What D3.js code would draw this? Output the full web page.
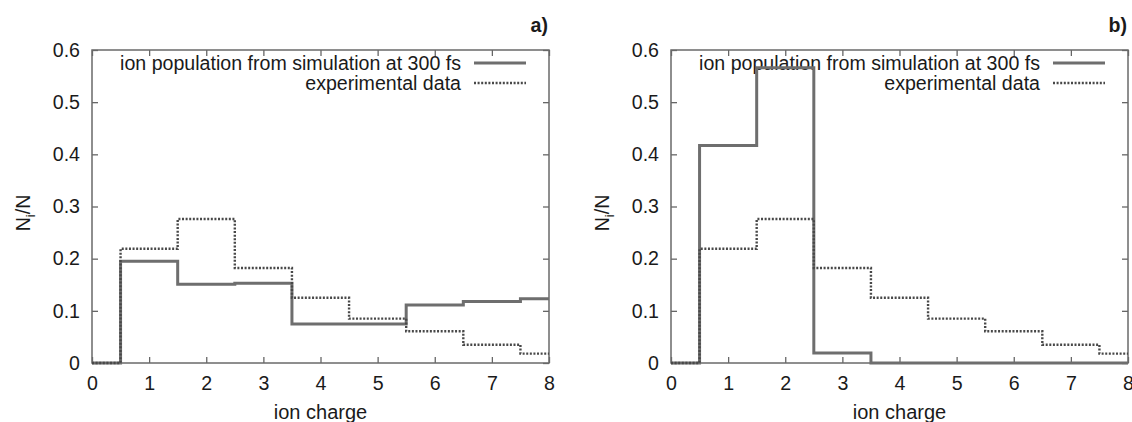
<!DOCTYPE html>
<html>
  <head>
    <meta charset="utf-8">
    <title>ion charge</title>
    <style>
      body { margin: 0; background: #fff; }
      text { font-family: "Liberation Sans", Arial, sans-serif; fill: #1a1a1a; }
    </style>
  </head>
  <body>
    <script src="https://cdn.jsdelivr.net/npm/d3@7"></script>
    <script>

// data
var charges = [0, 1, 2, 3, 4, 5, 6, 7, 8];
var simA = [0, 0.195, 0.151, 0.153, 0.075, 0.075, 0.111, 0.118, 0.123];
var simB = [0, 0.417, 0.566, 0.019, 0, 0, 0, 0, 0];
var expData = [0, 0.219, 0.276, 0.182, 0.125, 0.085, 0.061, 0.035, 0.018];
var xTicks = [0, 1, 2, 3, 4, 5, 6, 7, 8];
var yTicks = [0, 0.1, 0.2, 0.3, 0.4, 0.5, 0.6];
var legendLabels = ["ion population from simulation at 300 fs", "experimental data"];

var width = 457, height = 313;
var fs = 19.6;

var svg = d3.select("body")
  .append("svg")
    .attr("width", 1132)
    .attr("height", 422);

var x = d3.scaleLinear().domain([0, 8]).range([0, width]);
var y = d3.scaleLinear().domain([0, 0.6]).range([height, 0]);

var line = d3.line()
  .x(function (d) { return x(d[0]); })
  .y(function (d) { return y(d[1]); })
  .curve(d3.curveStep);

function panel(left, sim, tag) {
  var g = svg.append("g")
    .attr("transform", "translate(" + left + ",50)");

  var yFmt = function (d) { return d === 0 ? "0" : d.toFixed(1); };

  var ax = [
    g.append("g").attr("transform", "translate(0," + height + ")")
      .call(d3.axisBottom(x).tickValues(xTicks).tickSize(-6).tickPadding(13)),
    g.append("g")
      .call(d3.axisTop(x).tickValues(xTicks).tickSize(-6).tickFormat("")),
    g.append("g")
      .call(d3.axisLeft(y).tickValues(yTicks).tickSize(-6).tickPadding(12).tickFormat(yFmt)),
    g.append("g").attr("transform", "translate(" + width + ",0)")
      .call(d3.axisRight(y).tickValues(yTicks).tickSize(-6).tickFormat(""))
  ];
  ax.forEach(function (a) {
    a.select(".domain").remove();
    a.selectAll("line").attr("stroke", "#666").attr("stroke-width", 1.3);
    a.selectAll("text")
      .attr("font-size", fs)
      .attr("fill", "#1a1a1a")
      .style("font-family", "'Liberation Sans', Arial, sans-serif");
  });

  g.append("rect")
    .attr("width", width)
    .attr("height", height)
    .attr("fill", "none")
    .attr("stroke", "#6a6a6a")
    .attr("stroke-width", 1.5);

  // axis titles
  g.append("text")
    .attr("x", width / 2)
    .attr("y", 369)
    .attr("text-anchor", "middle")
    .attr("font-size", 20)
    .text("ion charge");

  var yl = g.append("text")
    .attr("transform", "translate(-62,163) rotate(-90)")
    .attr("text-anchor", "middle")
    .attr("font-size", fs);
  yl.append("tspan").text("N");
  yl.append("tspan").attr("font-size", 13).attr("dy", 5).text("i");
  yl.append("tspan").attr("dy", -5).text("/N");

  g.append("text")
    .attr("x", width - 1)
    .attr("y", -18)
    .attr("text-anchor", "end")
    .attr("font-size", fs)
    .attr("font-weight", "bold")
    .text(tag);

  // key (drawn before the data, as gnuplot does)
  var styles = [
    { stroke: "#6e6e6e", width: 3, dash: null },
    { stroke: "#484848", width: 2.4, dash: "2,1.6" }
  ];
  legendLabels.forEach(function (lab, i) {
    var ly = 13 + i * 20;
    g.append("text")
      .attr("x", width - 88)
      .attr("y", ly + 7)
      .attr("text-anchor", "end")
      .attr("font-size", fs)
      .text(lab);
    g.append("line")
      .attr("x1", width - 75)
      .attr("x2", width - 23)
      .attr("y1", ly)
      .attr("y2", ly)
      .attr("stroke", styles[i].stroke)
      .attr("stroke-width", styles[i].width)
      .attr("stroke-dasharray", styles[i].dash);
  });

  var series = [sim, expData];
  series.forEach(function (vals, i) {
    g.append("path")
      .datum(charges.map(function (c, k) { return [c, vals[k]]; }))
      .attr("d", line)
      .attr("fill", "none")
      .attr("stroke", styles[i].stroke)
      .attr("stroke-width", styles[i].width)
      .attr("stroke-dasharray", styles[i].dash);
  });
}

panel(92, simA, "a)");
panel(671, simB, "b)");

    </script>
  </body>
</html>
